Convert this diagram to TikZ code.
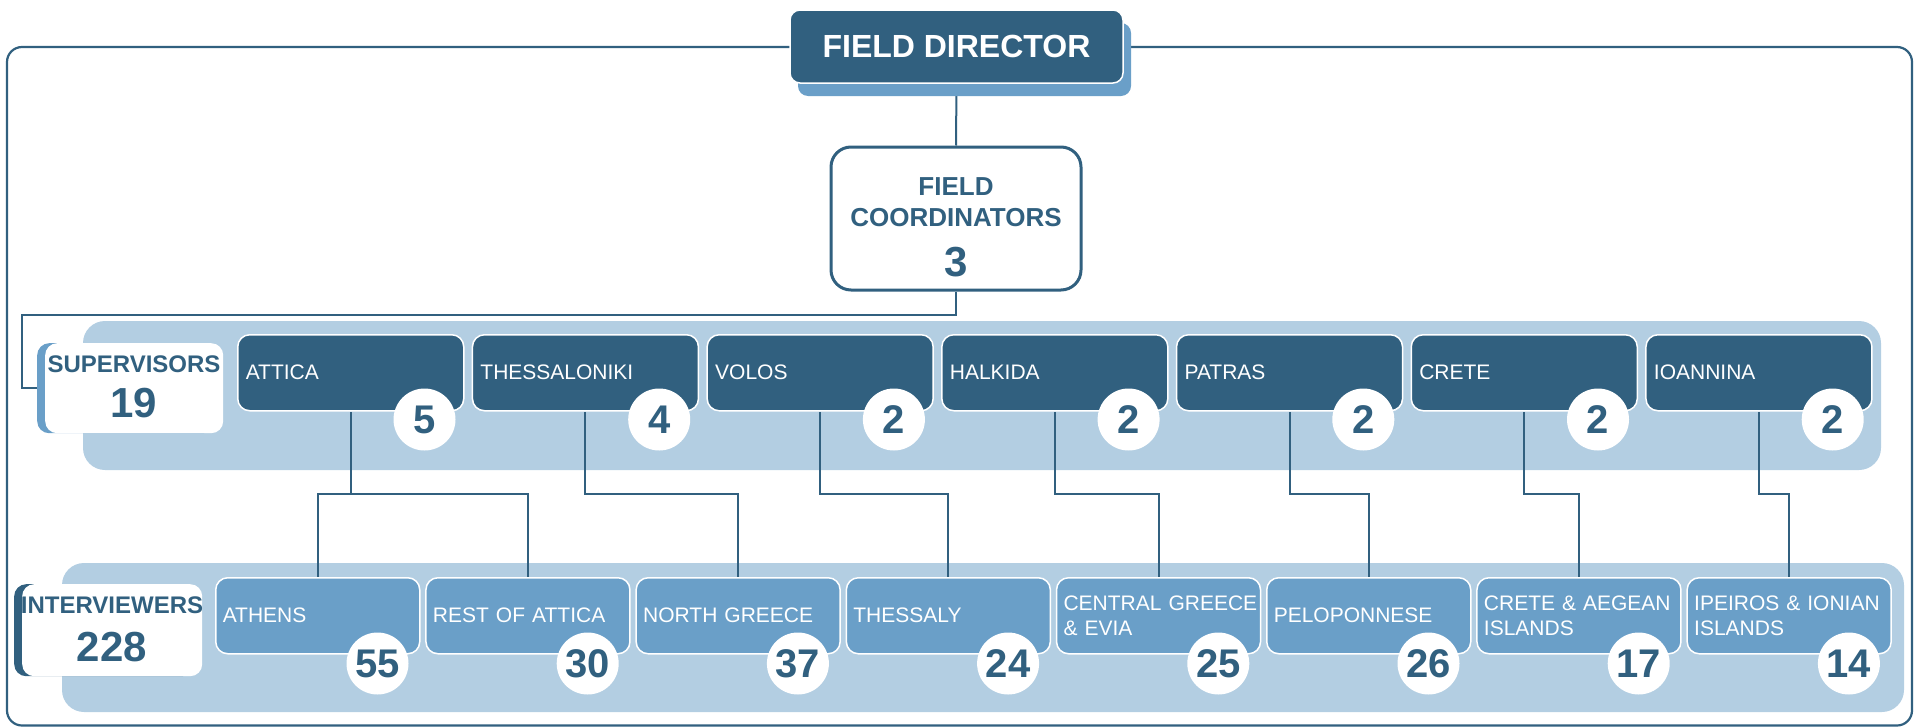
\documentclass[tikz,border=0pt]{standalone}
\usepackage{fontspec}
\setmainfont{Liberation Sans}
\usetikzlibrary{calc,shadows}

\definecolor{navy}{HTML}{31607F}
\definecolor{midblue}{HTML}{6A9FC8}
\definecolor{paleblue}{HTML}{B3CEE2}

\pgfdeclarelayer{background}
\pgfsetlayers{background,main}

\begin{document}
\begin{tikzpicture}[x=1pt,y=-1pt,
	link/.style={draw=navy, line width=2pt},
	regbox/.style={rectangle, rounded corners=12pt, fill=navy, draw=white, line width=1.5pt,
		anchor=north west, minimum height=76pt, inner xsep=8pt, text width=210pt,
		align=left, text=white, font=\fontsize{21}{25}\selectfont},
	areabox/.style={regbox, fill=midblue, inner xsep=7pt, text width=190pt},
	count/.style={circle, fill=white, minimum size=62pt, inner sep=0pt, text=navy,
		font=\bfseries\fontsize{40}{40}\selectfont},
	lblbox/.style={rectangle, rounded corners=12pt, fill=white, anchor=north west},
	lbltitle/.style={inner sep=0pt, text=navy, font=\bfseries\fontsize{24}{24}\selectfont},
	lblnum/.style={inner sep=0pt, text=navy, font=\bfseries\fontsize{42}{42}\selectfont}]

	\useasboundingbox (0,0) rectangle (1920,728);

	\coordinate (supbend) at (22,315);
	\coordinate (split) at (0,494);

	% top of the chart
	\node[rectangle, rounded corners=10pt, fill=navy, draw=white, line width=1.5pt,
		minimum width=333pt, minimum height=73pt, text=white,
		font=\bfseries\fontsize{32}{32}\selectfont,
		drop shadow={opacity=1, fill=midblue, shadow xshift=8pt, shadow yshift=-13pt}]
		(director) at (956.5,46.5) {FIELD DIRECTOR};

	\node[rectangle, rounded corners=20pt, fill=white, draw=navy, line width=3pt,
		minimum width=250pt, minimum height=143pt] (coordinators) at (956,218.5) {};
	\node[lbltitle, align=center, font=\bfseries\fontsize{26}{31}\selectfont]
		(coordtitle) at (956,202.5) {FIELD\\COORDINATORS};
	\node[lblnum] (coordnum) at (956,262) {3};

	% supervisors
	\node[lblbox, minimum width=178pt, minimum height=90pt,
		drop shadow={opacity=1, fill=midblue, shadow xshift=-8pt, shadow yshift=0pt}]
		(suplbl) at (45,343) {};
	\node[lbltitle] (suptitle) at (134,364) {SUPERVISORS};
	\node[lblnum] (supnum) at (134,403) {19};

	\node[regbox] (attica) at (237,334) {ATTICA};
	\node[regbox] (thessaloniki) at (471.7,334) {THESSALONIKI};
	\node[regbox] (volos) at (706.4,334) {VOLOS};
	\node[regbox] (halkida) at (941.1,334) {HALKIDA};
	\node[regbox] (patras) at (1175.8,334) {PATRAS};
	\node[regbox] (crete) at (1410.5,334) {CRETE};
	\node[regbox] (ioannina) at (1645.2,334) {IOANNINA};

	\node[count] (n-attica) at ($(attica.south east)+(-40,8)$) {5};
	\node[count] (n-thessaloniki) at ($(thessaloniki.south east)+(-40,8)$) {4};
	\node[count] (n-volos) at ($(volos.south east)+(-40,8)$) {2};
	\node[count] (n-halkida) at ($(halkida.south east)+(-40,8)$) {2};
	\node[count] (n-patras) at ($(patras.south east)+(-40,8)$) {2};
	\node[count] (n-crete) at ($(crete.south east)+(-40,8)$) {2};
	\node[count] (n-ioannina) at ($(ioannina.south east)+(-40,8)$) {2};

	% interviewers
	\node[lblbox, minimum width=180pt, minimum height=92pt,
		drop shadow={opacity=1, fill=navy, shadow xshift=-8pt, shadow yshift=0pt}]
		(intlbl) at (22,584) {};
	\node[lbltitle] (inttitle) at (112,605) {INTERVIEWERS};
	\node[lblnum] (intnum) at (112,647) {228};

	\node[areabox] (athens) at (215,577) {ATHENS};
	\node[areabox] (restattica) at (425.2,577) {REST OF ATTICA};
	\node[areabox] (northgreece) at (635.4,577) {NORTH GREECE};
	\node[areabox] (thessaly) at (845.6,577) {THESSALY};
	\node[areabox] (centralgreece) at (1055.8,577) {CENTRAL~GREECE\\\& EVIA};
	\node[areabox] (peloponnese) at (1266,577) {PELOPONNESE};
	\node[areabox] (creteaegean) at (1476.2,577) {CRETE \& AEGEAN\\ISLANDS};
	\node[areabox] (ipeiros) at (1686.4,577) {IPEIROS \& IONIAN\\ISLANDS};

	\node[count] (n-athens) at ($(athens.south east)+(-43,9)$) {55};
	\node[count] (n-restattica) at ($(restattica.south east)+(-43,9)$) {30};
	\node[count] (n-northgreece) at ($(northgreece.south east)+(-43,9)$) {37};
	\node[count] (n-thessaly) at ($(thessaly.south east)+(-43,9)$) {24};
	\node[count] (n-centralgreece) at ($(centralgreece.south east)+(-43,9)$) {25};
	\node[count] (n-peloponnese) at ($(peloponnese.south east)+(-43,9)$) {26};
	\node[count] (n-creteaegean) at ($(creteaegean.south east)+(-43,9)$) {17};
	\node[count] (n-ipeiros) at ($(ipeiros.south east)+(-43,9)$) {14};

	\begin{pgfonlayer}{background}
		% frame and bands
		\draw[navy, line width=2.2pt, rounded corners=15pt] (7,47) rectangle (1912,725.5);
		\fill[paleblue, rounded corners=22pt] (83,321) rectangle (1881,470);
		\fill[paleblue, rounded corners=22pt] (62,563) rectangle (1904,712);

		% connectors
		\draw[link] (director.south) -- (coordinators.north);
		\draw[link] (coordinators.south) |- (supbend) |- (suplbl.west);
		\draw[link] (attica.south) |- (split -| athens.north) -- (athens.north);
		\draw[link] (attica.south |- split) -| (restattica.north);
		\draw[link] (thessaloniki.south) |- (split -| northgreece.north) -- (northgreece.north);
		\draw[link] (volos.south) |- (split -| thessaly.north) -- (thessaly.north);
		\draw[link] (halkida.south) |- (split -| centralgreece.north) -- (centralgreece.north);
		\draw[link] (patras.south) |- (split -| peloponnese.north) -- (peloponnese.north);
		\draw[link] (crete.south) |- (split -| creteaegean.north) -- (creteaegean.north);
		\draw[link] (ioannina.south) |- (split -| ipeiros.north) -- (ipeiros.north);
	\end{pgfonlayer}

\end{tikzpicture}
\end{document}
